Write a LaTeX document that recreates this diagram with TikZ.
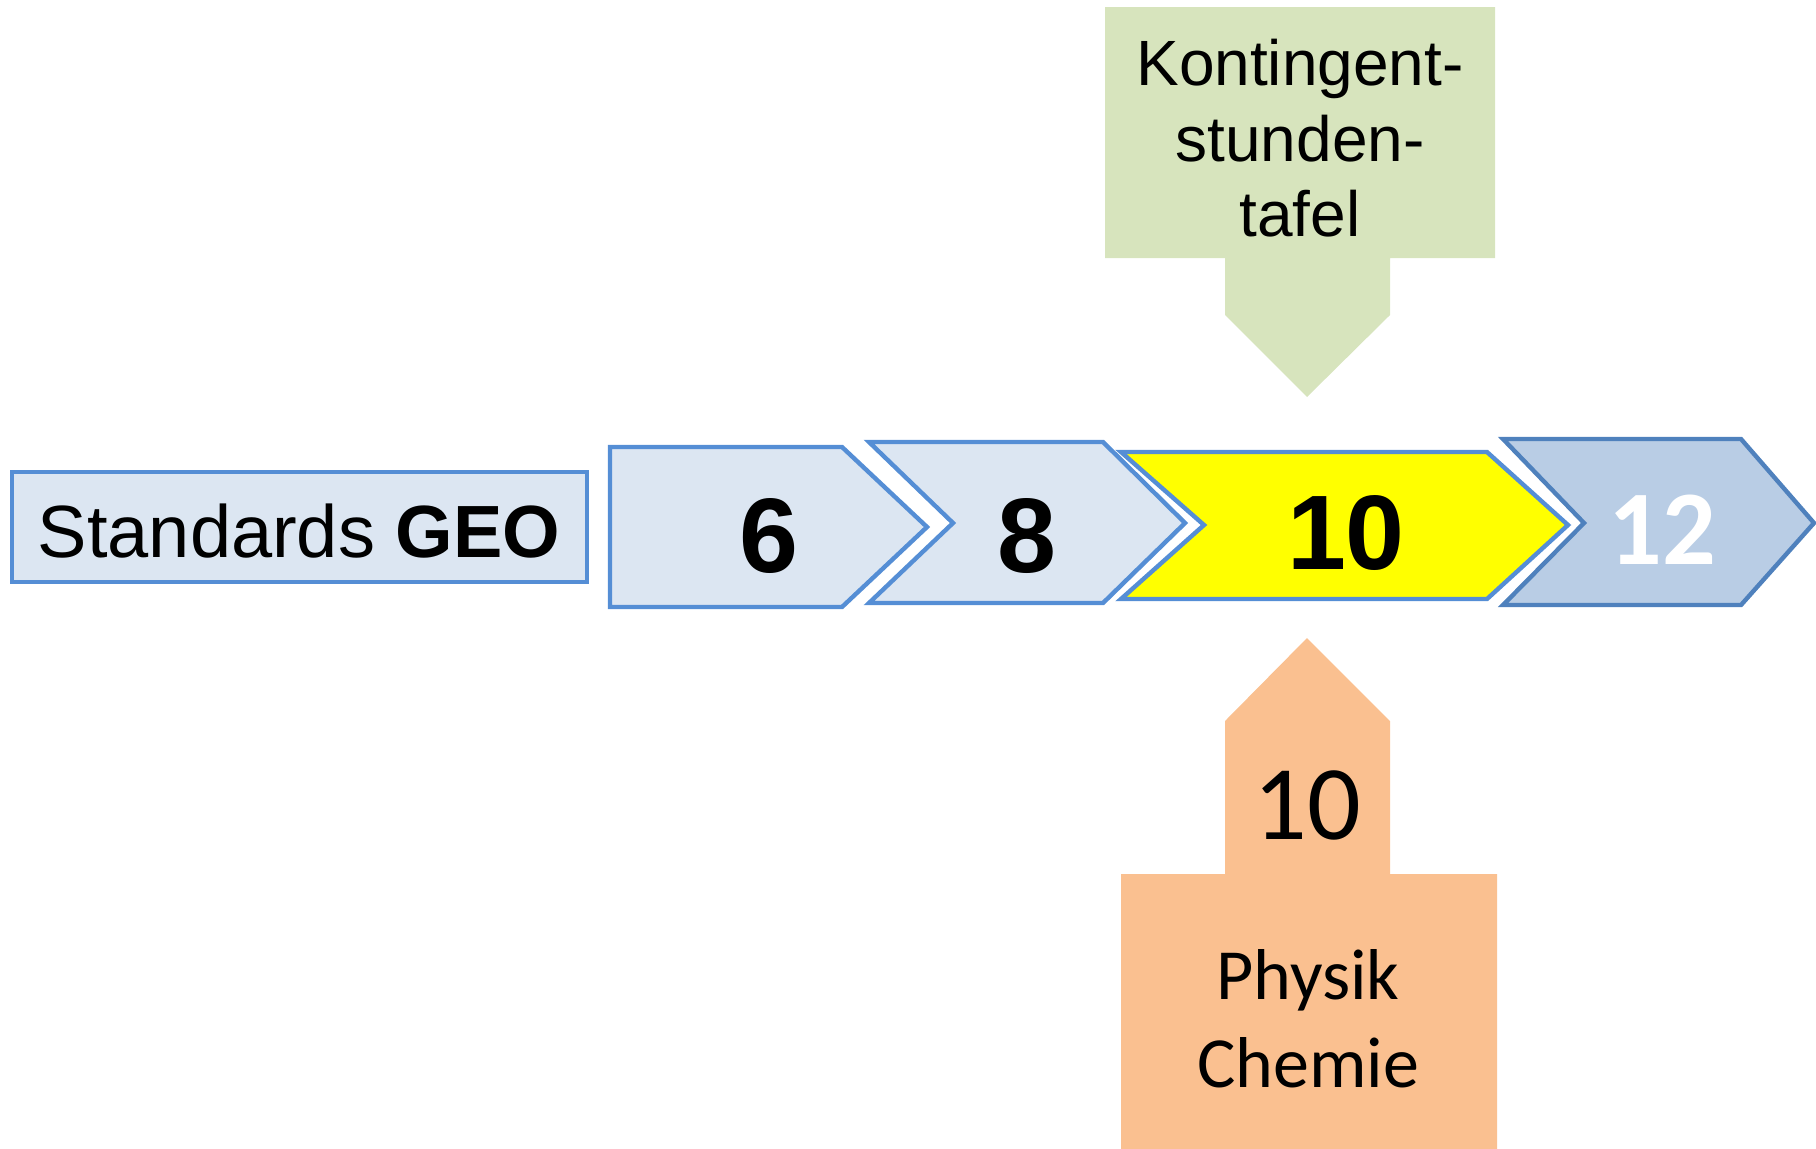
\documentclass[tikz,border=0pt]{standalone}
\usepackage{fontspec}
\setmainfont{Liberation Sans}
\newfontfamily\calibri{Carlito}
\definecolor{paleblue}{HTML}{DCE6F2}
\definecolor{edgeblue}{HTML}{558ED5}
\definecolor{midblue}{HTML}{B9CDE5}
\definecolor{darkedge}{HTML}{4F81BD}
\definecolor{sage}{HTML}{D7E4BD}
\definecolor{peach}{HTML}{FAC090}
\definecolor{brightyellow}{HTML}{FFFF00}
\tikzset{
  stage/.style={fill=paleblue, draw=edgeblue, line width=2.2pt, line join=miter},
  current/.style={fill=brightyellow, draw=edgeblue, line width=2.2pt, line join=miter},
  laterstage/.style={fill=midblue, draw=darkedge, line width=2.2pt, line join=miter},
  bignum/.style={font=\fontsize{53}{58}\selectfont\bfseries, anchor=base, inner sep=0},
  callouttext/.style={font=\fontsize{32}{38}\selectfont, anchor=base, inner sep=0},
  peachtext/.style={font=\calibri\fontsize{36}{44}\selectfont, anchor=base, inner sep=0}
}
\begin{document}
\begin{tikzpicture}[x=0.5pt,y=-0.5pt]
\useasboundingbox (0,0) rectangle (1816,1148);
\clip (0,0) rectangle (1816,1148);

% standards box
\draw[stage] (12,472) rectangle (587,582);
\node[font=\fontsize{37}{44}\selectfont, anchor=base, inner sep=0] (std) at (299,557) {Standards \textbf{GEO}};

% grade chevrons
\draw[stage] (610,447) -- (842,447) -- (927,527) -- (842,607) -- (610,607) -- cycle;
\draw[stage] (869,442) -- (1103,442) -- (1185,523) -- (1103,603) -- (869,603) -- (953,523) -- cycle;
\draw[current] (1121,452) -- (1487,452) -- (1568,525) -- (1487,599) -- (1121,599) -- (1204,525) -- cycle;
\draw[laterstage] (1503,439) -- (1741,439) -- (1814,523) -- (1741,605) -- (1503,605) -- (1584,523) -- cycle;

\node[bignum] (g6) at (769,572) {6};
\node[bignum] (g8) at (1027,572) {8};
\node[bignum] (g10) at (1346,569) {10};
\node[font=\calibri\fontsize{53}{58}\selectfont\bfseries, anchor=base, inner sep=0, text=white] (g12) at (1662,564) {12};

% callout from above
\fill[sage] (1105,7) -- (1495,7) -- (1495,258) -- (1390,258) -- (1390,315) -- (1307,397)
  -- (1225,315) -- (1225,258) -- (1105,258) -- cycle;
\node[callouttext] (kt1) at (1300,85) {Kontingent-};
\node[callouttext] (kt2) at (1300,161) {stunden-};
\node[callouttext] (kt3) at (1300,236) {tafel};

% callout from below
\fill[peach] (1307,638) -- (1390,721) -- (1390,874) -- (1497,874) -- (1497,1160) -- (1121,1160)
  -- (1121,874) -- (1225,874) -- (1225,721) -- cycle;
\node[font=\calibri\fontsize{53}{58}\selectfont, anchor=base, inner sep=0] (p10) at (1307,839) {10};
\node[peachtext] (phy) at (1308,999) {Physik};
\node[peachtext] (che) at (1308,1087) {Chemie};
\end{tikzpicture}
\end{document}
